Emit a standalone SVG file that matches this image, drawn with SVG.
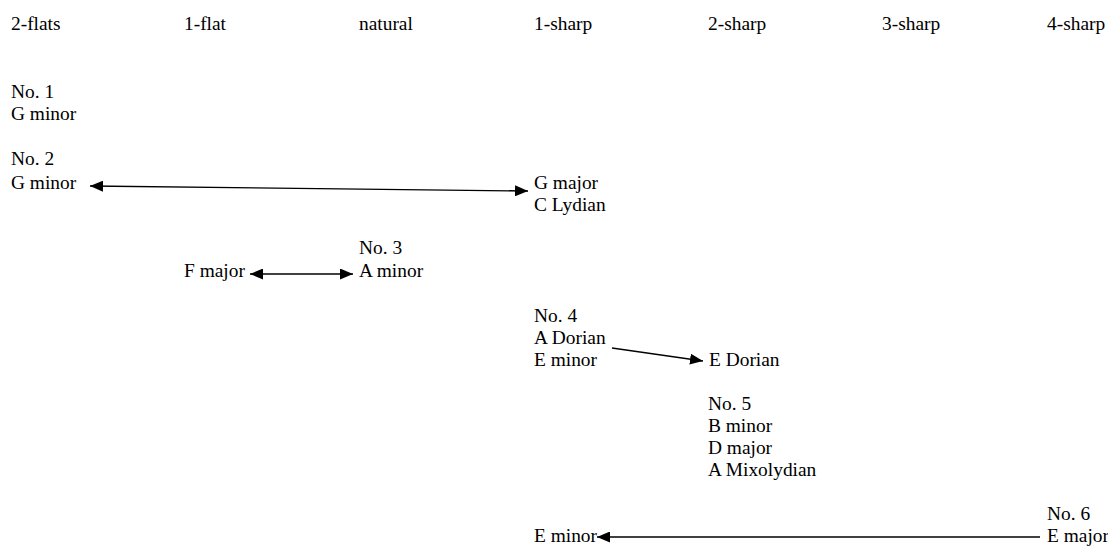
<svg xmlns="http://www.w3.org/2000/svg" width="1108" height="546" viewBox="0 0 1108 546">
<style>
text{font-family:"Liberation Serif","Times New Roman",serif;font-size:19.4px;fill:#000}
.c line{stroke:#000;stroke-width:1.3;fill:none}
</style>
<defs>
<marker id="ah" viewBox="0 0 13 11" refX="13" refY="5.5" markerWidth="13" markerHeight="11" markerUnits="userSpaceOnUse" orient="auto-start-reverse">
<path d="M0,0 L13,5.5 L0,11 Z" fill="#000"/>
</marker>
</defs>
<rect width="1108" height="546" fill="#fff"/>
<g id="headers">
<text x="11" y="30">2-flats</text>
<text x="184" y="30">1-flat</text>
<text x="359" y="30">natural</text>
<text x="534" y="30">1-sharp</text>
<text x="708" y="30">2-sharp</text>
<text x="882" y="30">3-sharp</text>
<text x="1047" y="30">4-sharp</text>
</g>
<g id="no1"><text x="11" y="98">No. 1</text><text x="11" y="120">G minor</text></g>
<g id="no2"><text x="11" y="165">No. 2</text><text x="11" y="189">G minor</text></g>
<g id="gmajor"><text x="534" y="189">G major</text><text x="534" y="211">C Lydian</text></g>
<g id="fmajor"><text x="184" y="277">F major</text></g>
<g id="no3"><text x="359" y="254">No. 3</text><text x="359" y="277">A minor</text></g>
<g id="no4"><text x="534" y="322">No. 4</text><text x="534" y="344">A Dorian</text><text x="534" y="366">E minor</text></g>
<g id="edorian"><text x="709" y="366">E Dorian</text></g>
<g id="no5"><text x="708" y="410">No. 5</text><text x="708" y="432">B minor</text><text x="708" y="454">D major</text><text x="708" y="476">A Mixolydian</text></g>
<g id="no6"><text x="1047" y="520">No. 6</text><text x="1047" y="542">E major</text></g>
<g id="eminor"><text x="534" y="542">E minor</text></g>
<g class="c" id="connectors">
<line x1="90" y1="186" x2="528" y2="191" marker-start="url(#ah)" marker-end="url(#ah)"/>
<line x1="250" y1="274" x2="353" y2="274" marker-start="url(#ah)" marker-end="url(#ah)"/>
<line x1="612" y1="348" x2="703" y2="361" marker-end="url(#ah)"/>
<line x1="1040" y1="537" x2="597" y2="537" marker-end="url(#ah)"/>
</g>
</svg>
